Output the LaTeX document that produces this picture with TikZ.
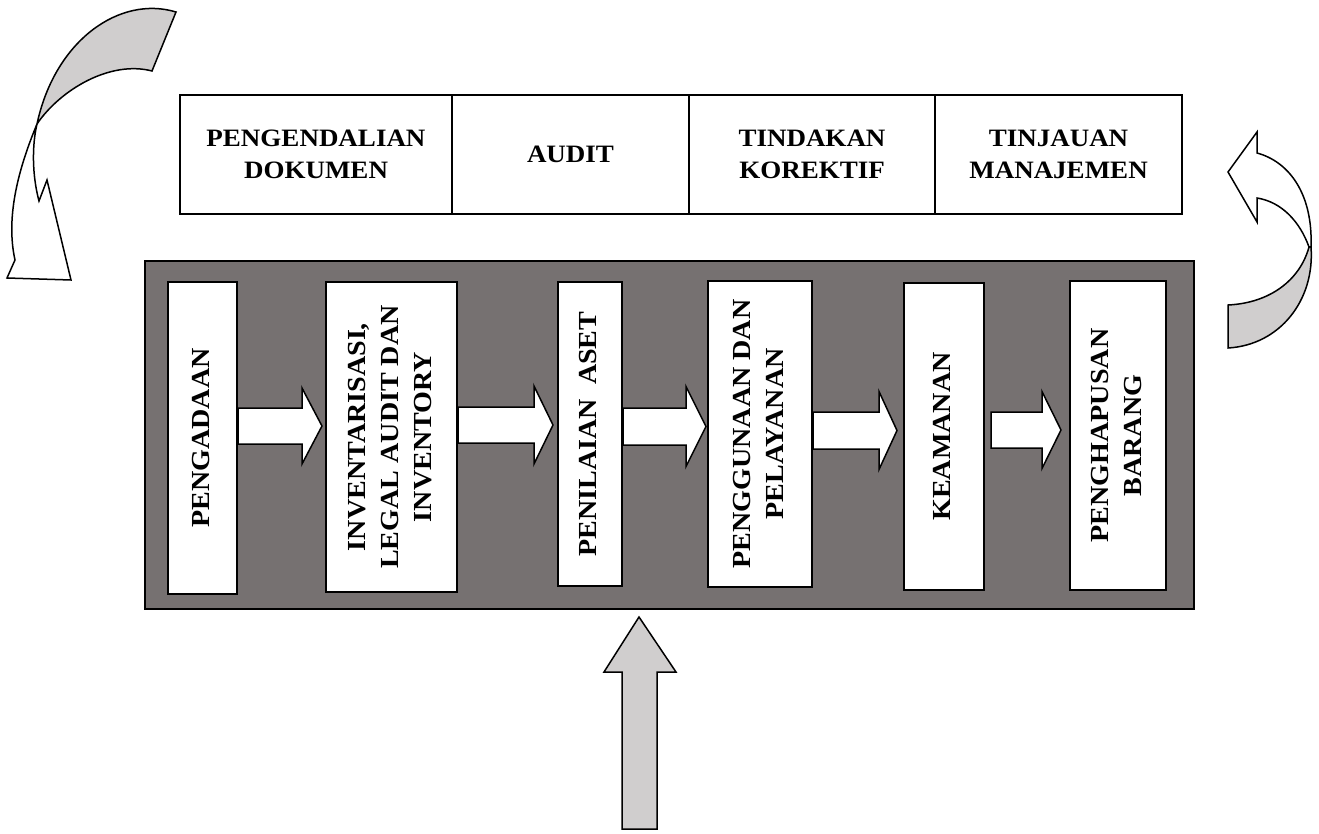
\documentclass[tikz,border=0pt]{standalone}
\usepackage{fontspec}
\setmainfont{Liberation Serif}[FakeStretch=1.08]
\usepackage{graphicx}
\usetikzlibrary{calc}
\definecolor{darkbg}{HTML}{767171}
\definecolor{lightgr}{HTML}{D0CECE}
\tikzset{
  topbox/.style={draw, line width=2pt, minimum height=119pt, inner sep=0pt,
    font=\bfseries\fontsize{25}{32}\selectfont, align=center},
  stagebox/.style={draw, fill=white, line width=2pt, inner sep=0pt,
    font=\bfseries\fontsize{26}{33}\selectfont},
  container/.style={draw, fill=darkbg, line width=2pt, inner sep=0pt},
  blockarrow/.style={draw, fill=white, line width=1.5pt, line join=miter},
  grayshape/.style={draw, fill=lightgr, line width=1.5pt},
  whiteshape/.style={draw, fill=white, line width=1.5pt},
}
% #1 from, #2 to, #3 y centre, #4 start gap, #5 end gap, #6 shaft half, #7 head half, #8 head length
\newcommand\flowarrow[8]{%
  \draw[blockarrow] let \p1=(#1.east), \p2=(#2.west), \p3=(0,#3) in
    (\x1+#4pt,\y3+#6pt) -- (\x2-#5pt-#8pt,\y3+#6pt) -- (\x2-#5pt-#8pt,\y3+#7pt)
    -- (\x2-#5pt,\y3) -- (\x2-#5pt-#8pt,\y3-#7pt) -- (\x2-#5pt-#8pt,\y3-#6pt)
    -- (\x1+#4pt,\y3-#6pt) -- cycle;}
\newcommand\vlines[1]{\rotatebox{90}{\begin{tabular}{@{}c@{}}#1\end{tabular}}}
\begin{document}
\begin{tikzpicture}[x=1pt,y=-1pt]
\useasboundingbox (0,0) rectangle (1319,834);
\fill[white] (0,0) rectangle (1319,834);

% top row
\node[topbox, minimum width=272pt] (doc) at (316,154.5) {PENGENDALIAN\\DOKUMEN};
\node[topbox, minimum width=237pt] (audit) at (570.5,154.5) {AUDIT};
\node[topbox, minimum width=246pt] (kor) at (812,154.5) {TINDAKAN\\KOREKTIF};
\node[topbox, minimum width=247pt] (tin) at (1058.5,154.5) {TINJAUAN\\MANAJEMEN};

% container
\node[container, minimum width=1049pt, minimum height=348pt] (frame) at (669.5,435) {};

% stages
\node[stagebox, minimum width=69pt, minimum height=312pt] (peng) at (202.5,438) {\vlines{PENGADAAN}};
\node[stagebox, minimum width=131pt, minimum height=310pt] (inv) at (391.5,437) {\vlines{INVENTARISASI,\\LEGAL AUDIT DAN\\INVENTORY}};
\node[stagebox, minimum width=64pt, minimum height=304pt] (nil) at (590,434) {\vlines{PENILAIAN\ \ ASET}};
\node[stagebox, minimum width=104pt, minimum height=306pt] (guna) at (760,434) {\vlines{PENGGUNAAN DAN\\PELAYANAN}};
\node[stagebox, minimum width=80pt, minimum height=307pt] (kea) at (944,436.5) {\vlines{KEAMANAN}};
\node[stagebox, minimum width=96pt, minimum height=309pt] (hap) at (1118,435.5) {\vlines{PENGHAPUSAN\\BARANG}};

% flow arrows
\flowarrow{peng}{inv}{426}{0}{3}{18}{38}{20}
\flowarrow{inv}{nil}{425}{0}{4}{18}{39}{19}
\flowarrow{nil}{guna}{426.5}{0}{1}{18.5}{40}{20}
\flowarrow{guna}{kea}{430.5}{0}{6}{18.5}{39}{18}
\flowarrow{kea}{hap}{430}{6}{8}{18}{38.5}{19}

% bottom up arrow
\draw[grayshape] (639,617) -- (676,672) -- (657,672) -- (657,829) -- (622,829)
  -- (622,672) -- (604,672) -- cycle;

% left curved arrow
\draw[grayshape] (37,124) .. controls (55,40) and (120,-5) .. (176,12) -- (152,71)
  .. controls (110,60) and (60,90) .. (37,124) -- cycle;
\draw[whiteshape] (37,124) .. controls (20,165) and (5,215) .. (15,260) -- (7,278)
  -- (71,280) -- (47,180) -- (39,201) .. controls (32,175) and (32,145) .. (37,124) -- cycle;

% right curved arrow
\draw[grayshape] (1311,247) .. controls (1315,300) and (1280,345) .. (1228,348)
  -- (1228,305) .. controls (1270,303) and (1300,280) .. (1309,247) -- cycle;
\draw[whiteshape] (1228,172) -- (1257,132) -- (1257,153)
  .. controls (1290,162) and (1313,195) .. (1311,247) -- (1309,247)
  .. controls (1300,222) and (1282,202) .. (1257,198) -- (1257,222) -- cycle;
\end{tikzpicture}
\end{document}
